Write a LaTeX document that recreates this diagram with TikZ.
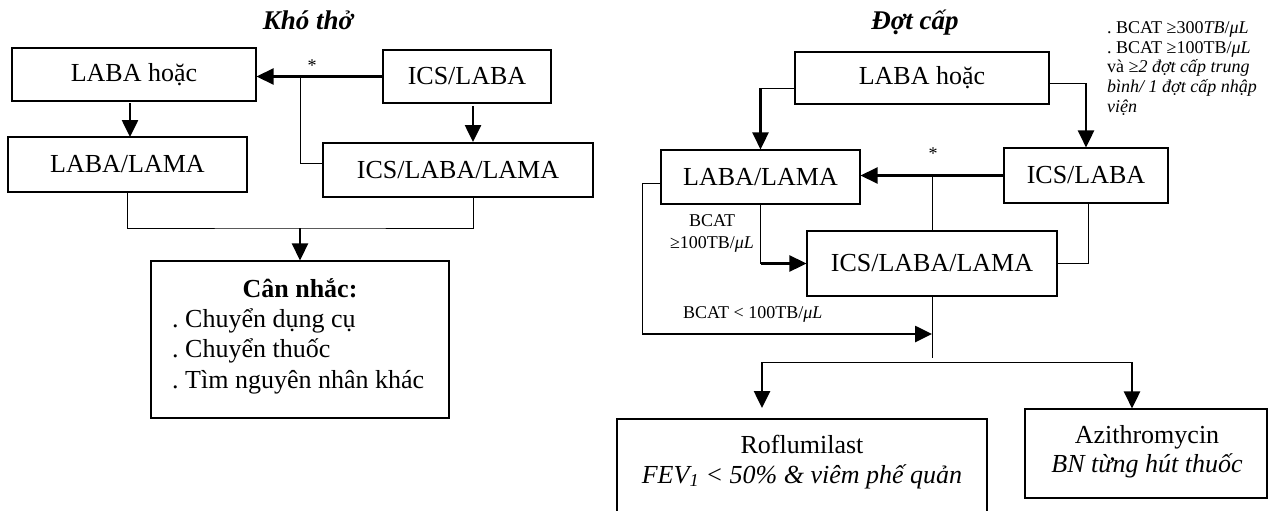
\documentclass[tikz,border=0pt]{standalone}
\usepackage{fontspec}
\setmainfont{Liberation Serif}
\usetikzlibrary{arrows.meta,calc}
\frenchspacing
\tikzset{
  box/.style={draw, line width=1.1pt, inner sep=0pt, font=\fontsize{26}{30}\selectfont},
  thinln/.style={line width=1pt},
  arr/.style={line width=2.6pt, -{Triangle[length=17pt,width=16pt]}},
  ttl/.style={font=\fontsize{27}{30}\selectfont\bfseries\itshape, anchor=base, inner sep=0pt},
  lbl/.style={font=\fontsize{18}{20}\selectfont, anchor=base, inner sep=0pt},
  big/.style={font=\fontsize{26}{30}\selectfont, anchor=base, inner sep=0pt},
}
\begin{document}
\begin{tikzpicture}[x=1pt,y=-1pt]
\frenchspacing
\useasboundingbox (0,0) rectangle (1274,511);
\fill[white] (0,0) rectangle (1274,511);
\clip (0,0) rectangle (1274,511);

% ---------- left diagram ----------
\node[ttl] (t1) at (308,30) {Khó thở};
\node[box, minimum width=244pt, minimum height=53pt] (lhoac) at (134,74.5) {LABA hoặc};
\node[box, minimum width=168pt, minimum height=53pt] (lics) at (467,76.5) {ICS/LABA};
\node[box, minimum width=239pt, minimum height=55pt] (llama) at (127.5,164.5) {LABA/LAMA};
\node[box, minimum width=270pt, minimum height=54pt] (lics3) at (458,170) {ICS/LABA/LAMA};
\node[box, minimum width=298pt, minimum height=157pt] (lcan) at (300,339.5) {};
\node[big, font=\fontsize{26}{30}\selectfont\bfseries] (c0) at (300,297) {Cân nhắc:};
\node[big, anchor=base west] (c1) at (172,327) {. Chuyển dụng cụ};
\node[big, anchor=base west] (c2) at (172,357) {. Chuyển thuốc};
\node[big, anchor=base west] (c3) at (172,388) {. Tìm nguyên nhân khác};
\node[lbl] (st1) at (312,71) {*};

\draw[arr] (lics.west) -- (lics.west -| lhoac.east);
\coordinate (lbr) at (300,76.5);
\draw[thinln] (lbr) |- ([yshift=7pt]lics3.west);
\coordinate (la1) at (130,103);
\coordinate (la2) at (130,137);
\draw[arr] (la1) -- (la2);
\coordinate (lb1) at (473,106);
\coordinate (lb2) at (473,142);
\draw[arr] (lb1) -- (lb2);
\coordinate (lm) at (300,228);
\coordinate (lr) at (473,197);
\draw[thinln] (llama.south) |- (lm) -| (lr);
\draw[arr] (lm) -- (lcan.north);

% ---------- right diagram ----------
\node[ttl] (t2) at (915,30) {Đợt cấp};
\node[box, minimum width=254pt, minimum height=52pt] (rhoac) at (922,78) {LABA hoặc};
\node[box, minimum width=199pt, minimum height=54pt] (rlama) at (760.5,177) {LABA/LAMA};
\node[box, minimum width=164pt, minimum height=55pt] (rics) at (1086,175.5) {ICS/LABA};
\node[box, minimum width=250pt, minimum height=65pt] (rics3) at (932,263.5) {ICS/LABA/LAMA};
\node[box, minimum width=370pt, minimum height=121pt] (rrof) at (802,479.5) {};
\node[box, minimum width=242pt, minimum height=89pt] (razi) at (1146,453.5) {};
\node[big] (r1) at (802,453) {Roflumilast};
\node[big] (r2) at (802,483) {\textit{FEV\textsubscript{1} < 50\% \& viêm phế quản}};
\node[big] (a1) at (1147,443) {Azithromycin};
\node[big] (a2) at (1147,472) {\textit{BN từng hút thuốc}};

\node[lbl, anchor=base west] (n1) at (1107,34) {. BCAT ≥300\textit{TB}/\textit{μL}};
\node[lbl, anchor=base west] (n2) at (1107,53.5) {. BCAT ≥100TB/\textit{μL}};
\node[lbl, anchor=base west] (n3) at (1107,73) {và \textit{≥2 đợt cấp trung}};
\node[lbl, anchor=base west] (n4) at (1107,92.5) {\textit{bình/ 1 đợt cấp nhập}};
\node[lbl, anchor=base west] (n5) at (1107,112) {\textit{viện}};

\node[lbl] (st2) at (933,159) {*};
\node[lbl] (b1) at (712,226) {BCAT};
\node[lbl] (b2) at (712,248) {≥100TB/\textit{μL}};
\node[lbl, anchor=base west] (b3) at (683,318) {BCAT < 100TB/\textit{μL}};

\coordinate (ra) at (760.5,88);
\draw[thinln] (rhoac.west |- ra) -- (ra);
\draw[arr] (ra) -- (rlama.north);
\coordinate (rb) at (1086,83);
\draw[thinln] (rhoac.east |- rb) -- (rb);
\draw[arr] (rb) -- (rics.north);
\draw[arr] (rics.west) -- (rics.west -| rlama.east);
\coordinate (rj) at (rics3.north |- rics.west);
\draw[thinln] (rj) -- (rics3.north);
\coordinate (rk) at (1088,203);
\draw[thinln] (rk) |- (rics3.east);
\coordinate (rc) at (rlama.south |- rics3.west);
\draw[thinln] (rlama.south) -- (rc);
\draw[arr] (rc) -- (rics3.west);
\coordinate (rd) at (642,183);
\coordinate (re) at (642,334);
\coordinate (rf) at (rics3.south |- re);
\draw[thinln] (rlama.west |- rd) -- (rd) -- (re);
\draw[arr] (re) -- (rf);
\coordinate (rg) at (932,358);
\draw[thinln] (rics3.south) -- (rg);
\coordinate (rh) at (762,362);
\coordinate (ri) at (1132,362);
\coordinate (rh2) at (762,408);
\draw[thinln] (rh) -- (ri);
\draw[arr] (rh) -- (rh2);
\draw[arr] (ri) -- (ri |- razi.north);
\end{tikzpicture}
\end{document}
